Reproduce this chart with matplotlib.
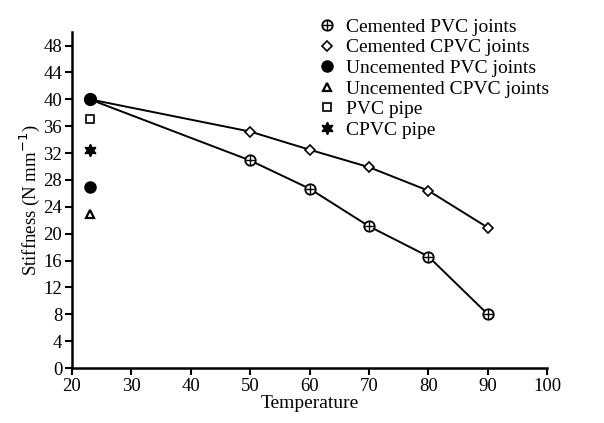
import matplotlib
matplotlib.use("Agg")
import matplotlib.pyplot as plt
from matplotlib.lines import Line2D
from matplotlib.legend_handler import HandlerTuple

plt.rcParams['font.family'] = ['Liberation Serif', 'DejaVu Serif']

# Stiffness measurements (N mm^-1) against temperature
temp_joints = [23, 50, 60, 70, 80, 90]
cemented_pvc = [40.0, 30.9, 26.7, 21.1, 16.6, 8.0]
cemented_cpvc = [40.0, 35.2, 32.5, 29.9, 26.4, 20.9]

temp_single = [23]
uncemented_pvc = [27.0]
uncemented_cpvc = [23.0]
pvc_pipe = [37.0]
cpvc_pipe = [32.4]

labels = ['Cemented PVC joints', 'Cemented CPVC joints', 'Uncemented PVC joints',
          'Uncemented CPVC joints', 'PVC pipe', 'CPVC pipe']

x_ticks = [20, 30, 40, 50, 60, 70, 80, 90, 100]
y_ticks = [0, 4, 8, 12, 16, 20, 24, 28, 32, 36, 40, 44, 48]

fig = plt.figure(figsize=(6.04, 4.23), dpi=100)
ax = fig.add_axes([0.119, 0.130, 0.787, 0.794])

# marker styles per series
st_pvc_o = dict(marker='o', ms=7.5, mfc='white', mec='black', mew=1.3)
st_pvc_p = dict(marker='+', ms=7.5, mec='black', mew=1.0)
st_cpvc = dict(marker='D', ms=5.5, mfc='white', mec='black', mew=1.2)
st_unpvc = dict(marker='o', ms=8, mfc='black', mec='black')
st_uncpvc = dict(marker='^', ms=5.5, mfc='white', mec='black', mew=1.6)
st_pvcpipe = dict(marker='s', ms=5.5, mfc='white', mec='black', mew=1.2)
st_cpvcpipe = dict(marker=(6, 1, 0), ms=9, mfc='black', mec='black')

lc = dict(color='black', lw=1.4)
ax.plot(temp_joints, cemented_cpvc, **st_cpvc, **lc)
ax.plot(temp_joints, cemented_pvc, **st_pvc_o, **lc)
ax.plot(temp_joints, cemented_pvc, ls='none', **st_pvc_p)
ax.plot(temp_single, uncemented_pvc, ls='none', **st_unpvc)
ax.plot(temp_single, uncemented_cpvc, ls='none', **st_uncpvc)
ax.plot(temp_single, pvc_pipe, ls='none', **st_pvcpipe)
ax.plot(temp_single, cpvc_pipe, ls='none', **st_cpvcpipe)
# shared start point drawn solid
ax.plot([23], [40.0], marker='o', ms=8.5, color='black', ls='none')

ax.set_xlim(20, 100)
ax.set_ylim(0, 50)
ax.set_xticks(x_ticks)
ax.set_yticks(y_ticks)
ax.spines['top'].set_visible(False)
ax.spines['right'].set_visible(False)
ax.spines['left'].set_linewidth(1.8)
ax.spines['bottom'].set_linewidth(1.8)
ax.tick_params(direction='out', length=5, width=1.5, labelsize=13.5, pad=2)

ax.set_xlabel('Temperature', fontsize=14, labelpad=0)
ax.set_ylabel('Stiffness (N mm$^{-1}$)', fontsize=13.5, labelpad=1)

def proxy(style):
    return Line2D([], [], ls='none', color='black', **style)

handles = [(proxy(st_pvc_o), proxy(st_pvc_p)), proxy(st_cpvc), proxy(st_unpvc),
           proxy(st_uncpvc), proxy(st_pvcpipe), proxy(st_cpvcpipe)]

fig.legend(handles, labels,
           handler_map={tuple: HandlerTuple(ndivide=1, pad=0)},
           loc='upper left', bbox_to_anchor=(0.515, 0.975), frameon=False,
           fontsize=14, handlelength=0.8, handletextpad=0.6, labelspacing=0.15,
           borderaxespad=0)

fig.savefig('out.png', dpi=100)
